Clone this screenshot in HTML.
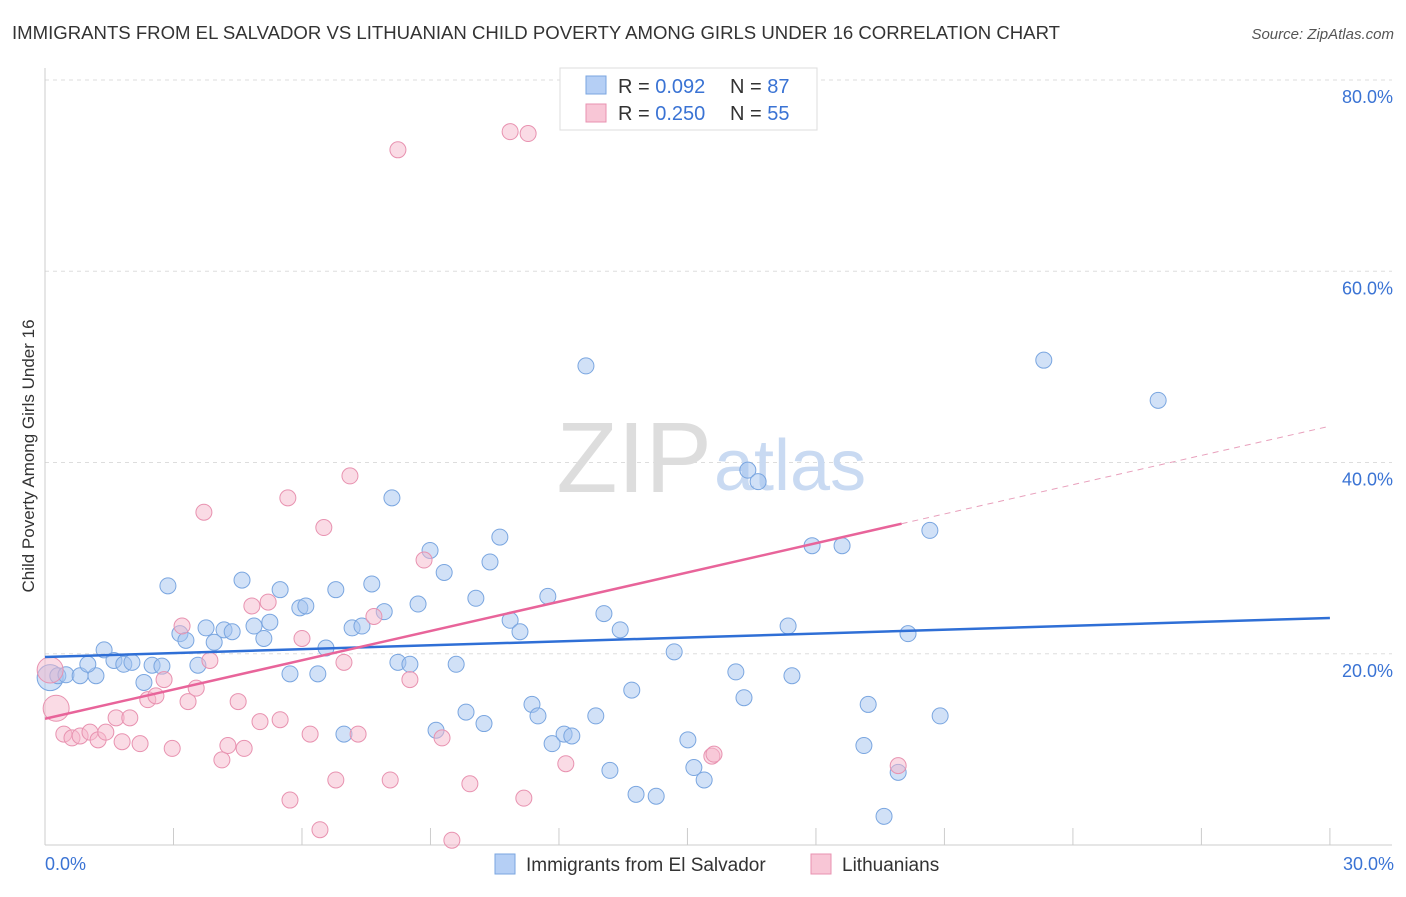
<!DOCTYPE html>
<html><head><meta charset="utf-8"><style>
body{margin:0;background:#fff;font-family:"Liberation Sans",sans-serif;}
svg text{font-family:"Liberation Sans",sans-serif;}
</style></head><body>
<svg id="c" width="1406" height="892">
<text x="12" y="39" font-size="18" fill="#333" textLength="1048" lengthAdjust="spacingAndGlyphs">IMMIGRANTS FROM EL SALVADOR VS LITHUANIAN CHILD POVERTY AMONG GIRLS UNDER 16 CORRELATION CHART</text>
<text x="1394" y="39" font-size="15" fill="#555" font-style="italic" text-anchor="end">Source: ZipAtlas.com</text>
<text transform="translate(34,456) rotate(-90)" font-size="17" fill="#333" text-anchor="middle">Child Poverty Among Girls Under 16</text>
<g id="grid"></g>
<text x="712" y="492" font-size="100" fill="#ddd" text-anchor="end" font-family="Liberation Serif">ZIP</text>
<text x="714" y="490" font-size="72" fill="#c9daf2">atlas</text>
<g id="marks"></g>
<g>
<rect x="560" y="68" width="257" height="62" fill="#fff" stroke="#ddd"/>
<rect x="586" y="76" width="20" height="18" fill="#b5cff5" stroke="#7aa6e0"/>
<rect x="586" y="104" width="20" height="18" fill="#f8c6d6" stroke="#e892b0"/>
<text x="618" y="93" font-size="20" fill="#333">R = <tspan fill="#3a73d4">0.092</tspan></text>
<text x="730" y="93" font-size="20" fill="#333">N = <tspan fill="#3a73d4">87</tspan></text>
<text x="618" y="120" font-size="20" fill="#333">R = <tspan fill="#3a73d4">0.250</tspan></text>
<text x="730" y="120" font-size="20" fill="#333">N = <tspan fill="#3a73d4">55</tspan></text>
</g>
<g>
<rect x="495" y="854" width="20" height="20" fill="#b5cff5" stroke="#7aa6e0"/>
<text x="526" y="871" font-size="19" fill="#333">Immigrants from El Salvador</text>
<rect x="811" y="854" width="20" height="20" fill="#f8c6d6" stroke="#e892b0"/>
<text x="842" y="871" font-size="19" fill="#333">Lithuanians</text>
</g>
</svg>
<script>
const yTicks=[20,40,60,80];
const xTickLabels=["0.0%","30.0%"];
const blueX=[0.12,0.30,0.49,0.82,1.19,1.0,1.38,1.61,1.84,2.03,2.31,2.50,2.73,2.87,3.15,3.29,3.57,3.76,3.95,4.18,4.37,4.60,4.88,5.11,5.25,5.49,5.72,5.95,6.09,6.37,6.56,6.79,6.98,7.17,7.40,7.63,7.92,8.10,8.24,8.52,8.71,8.99,9.13,9.32,9.60,9.83,10.06,10.25,10.39,10.62,10.86,11.09,11.37,11.51,11.74,11.84,12.12,12.30,12.63,12.86,13.05,13.19,13.43,13.70,13.80,14.27,14.69,15.01,15.15,15.39,16.13,16.32,16.41,16.65,17.35,17.44,17.91,18.61,19.12,19.22,19.59,19.92,20.15,20.66,20.90,23.32,25.99];
const blueY=[17.5,17.7,17.8,17.7,17.7,18.9,20.4,19.3,18.9,19.1,17.0,18.8,18.7,27.1,22.1,21.4,18.8,22.7,21.2,22.5,22.3,27.7,22.9,21.6,23.3,26.7,17.9,24.8,25.0,17.9,20.6,26.7,11.6,22.7,22.9,27.3,24.4,36.3,19.1,18.9,25.2,30.8,12.0,28.5,18.9,13.9,25.8,12.7,29.6,32.2,23.5,22.3,14.7,13.5,26.0,10.6,11.6,11.4,50.1,13.5,24.2,7.8,22.5,16.2,5.3,5.1,20.2,11.0,8.1,6.8,18.1,15.4,39.2,38.0,22.9,17.7,31.3,31.3,10.4,14.7,3.0,7.6,22.1,32.9,13.5,50.7,46.5];
const pinkX=[0.12,0.26,0.44,0.63,0.82,1.05,1.24,1.42,1.66,1.80,1.98,2.22,2.40,2.59,2.78,2.97,3.20,3.34,3.53,3.71,3.85,4.13,4.27,4.51,4.65,4.83,5.02,5.21,5.49,5.67,5.72,6.00,6.19,6.42,6.51,6.79,6.98,7.12,7.31,7.68,8.06,8.24,8.52,8.85,9.27,9.50,9.92,10.86,11.18,11.28,12.16,15.57,15.62,19.92];
const pinkY=[18.3,14.3,11.6,11.2,11.4,11.8,11.0,11.8,13.3,10.8,13.3,10.6,15.2,15.6,17.3,10.1,22.9,15.0,16.4,34.8,19.3,8.9,10.4,15.0,10.1,25.0,12.9,25.4,13.1,36.3,4.7,21.6,11.6,1.6,33.2,6.8,19.1,38.6,11.6,23.9,6.8,72.7,17.3,29.8,11.2,0.5,6.4,74.6,4.9,74.4,8.5,9.3,9.5,8.3];
const blueTrend=[19.66,23.74];
const pinkTrend=[13.2,43.8];
const NS="http://www.w3.org/2000/svg";
const X=v=>45+v*42.83, Y=v=>845-v*9.5625;
function mk(t,a,p){const e=document.createElementNS(NS,t);for(const k in a)e.setAttribute(k,a[k]);p.appendChild(e);return e;}
const g=document.getElementById('grid'), m=document.getElementById('marks');
yTicks.forEach(t=>{
 const l=mk('line',{x1:45,x2:1392,y1:Y(t),y2:Y(t),stroke:'#ddd','stroke-dasharray':'4,4'},g);
 
 
 const tx=mk('text',{x:1393,y:Y(t)+23,'font-size':18,fill:'#3a73d4','text-anchor':'end'},g);tx.textContent=t+'.0%';
 
 
});
const ax=mk('line',{x1:45,x2:45,y1:68,y2:845,stroke:'#ccc'},g);


const bx=mk('line',{x1:45,x2:1392,y1:845,y2:845,stroke:'#ccc'},g);


for(let i=0;i<=10;i++){const t=mk('line',{x1:X(i*3),x2:X(i*3),y1:828,y2:845,stroke:'#ccc'},g);
 
 }
[[0,'start',45],[30,'end',1394]].forEach((d,i)=>{const t=mk('text',{x:d[2],y:870,'font-size':18,fill:'#3a73d4','text-anchor':d[1]},g);t.textContent=xTickLabels[i];
 
 });
function pts(xs,ys,fill,stroke,name){xs.forEach((x,i)=>{const c=mk('circle',{cx:X(x),cy:Y(ys[i]),r:i<(name=='pink'?2:1)?13:8,fill:fill,stroke:stroke,'stroke-width':1},m);
 
 });}
pts(blueX,blueY,'rgba(164,196,240,0.5)','#7aa6e0','blue');
pts(pinkX,pinkY,'rgba(246,184,204,0.5)','#e892b0','pink');
const bl=mk('line',{x1:X(0),y1:Y(blueTrend[0]),x2:X(30),y2:Y(blueTrend[1]),stroke:'#2f6fd6','stroke-width':2.5},m);


const pAt=x=>pinkTrend[0]+(pinkTrend[1]-pinkTrend[0])*x/30;
const pl=mk('line',{x1:X(0),y1:Y(pAt(0)),x2:X(20),y2:Y(pAt(20)),stroke:'#e8649a','stroke-width':2.5},m);


const pd=mk('line',{x1:X(20),y1:Y(pAt(20)),x2:X(30),y2:Y(pAt(30)),stroke:'#e8a0bc','stroke-width':1,'stroke-dasharray':'6,5'},m);


</script>
</body></html>
